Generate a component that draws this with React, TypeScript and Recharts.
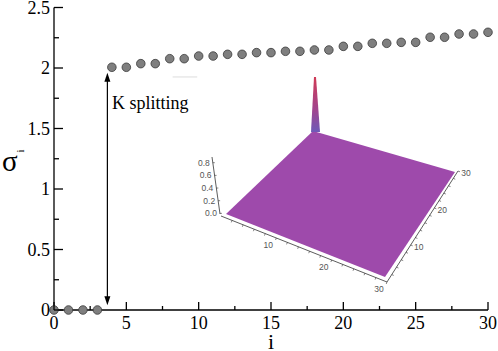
import React from "react";
import { ScatterChart, Scatter, XAxis, YAxis, ReferenceLine } from "recharts";

// singular values sigma_i (degenerate pairs above the split)
const indices = [
  0, 1, 2, 3, 4, 5, 6, 7, 8, 9, 10, 11, 12, 13, 14, 15, 16, 17, 18, 19, 20, 21,
  22, 23, 24, 25, 26, 27, 28, 29, 30,
];
const sigma = [
  0, 0, 0, 0, 2.006, 2.006, 2.036, 2.036, 2.077, 2.077, 2.099, 2.099, 2.113,
  2.113, 2.127, 2.127, 2.138, 2.138, 2.149, 2.149, 2.179, 2.179, 2.204, 2.204,
  2.212, 2.212, 2.254, 2.254, 2.281, 2.281, 2.295,
];

const xTicks = [0, 2.5, 5, 7.5, 10, 12.5, 15, 17.5, 20, 22.5, 25, 27.5, 30];
const yTicks = [0, 0.25, 0.5, 0.75, 1, 1.25, 1.5, 1.75, 2, 2.25, 2.5];
const xLabels = ["0", "5", "10", "15", "20", "25", "30"];
const yLabels = ["0", "0.5", "1", "1.5", "2", "2.5"];

// inset (surface plot) tick labels
const zLabels = ["0.0", "0.2", "0.4", "0.6", "0.8"];
const gridLabels = ["10", "20", "30"];

const points = indices.map((i, k) => ({ i, s: sigma[k] }));

const serif = "Liberation Serif, Times New Roman, Tinos, DejaVu Serif, serif";
const sans = "Liberation Sans, Arial, sans-serif";
const lw = 1.3;
const serifStyle = { fontFamily: serif };
const sansStyle = { fontFamily: sans };

const BottomTick = (props: any) => {
  const { x, y, payload } = props;
  const label = xLabels.find((l) => Number(l) === payload.value);
  return (
    <g>
      <line x1={x} y1={y} x2={x} y2={y - (label ? 8 : 4)} stroke="#000" strokeWidth={lw} />
      {label && (
        <text x={x} y={y + 19} textAnchor="middle" fontSize={18} style={serifStyle} fill="#000">
          {label}
        </text>
      )}
    </g>
  );
};

const LeftTick = (props: any) => {
  const { x, y, payload } = props;
  const label = yLabels.find((l) => Number(l) === payload.value);
  return (
    <g>
      <line x1={x} y1={y} x2={x + (label ? 9 : 5)} y2={y} stroke="#000" strokeWidth={lw} />
      {label && (
        <text x={x - 4} y={y + 6} textAnchor="end" fontSize={18} style={serifStyle} fill="#000">
          {label}
        </text>
      )}
    </g>
  );
};

const TopTick = (props: any) => {
  const { x, y } = props;
  return <line x1={x} y1={y} x2={x} y2={y + 8} stroke="#000" strokeWidth={lw} />;
};

const RightTick = (props: any) => {
  const { x, y } = props;
  return <line x1={x} y1={y} x2={x - 8} y2={y} stroke="#000" strokeWidth={lw} />;
};

const Dot = (props: any) => (
  <circle cx={props.cx} cy={props.cy} r={4.3} fill="#7f7f7f" stroke="#3a3a3a" strokeWidth={0.8} />
);

const DoubleArrow = (props: any) => {
  const { x1, y1, x2, y2 } = props;
  return (
    <g>
      <line x1={x1} y1={y1 + 6} x2={x2} y2={y2 - 6} stroke="#000" strokeWidth={1.2} />
      <polygon points={`${x1},${y1} ${x1 - 3},${y1 + 9} ${x1 + 3},${y1 + 9}`} fill="#000" />
      <polygon points={`${x2},${y2} ${x2 - 3},${y2 - 9} ${x2 + 3},${y2 - 9}`} fill="#000" />
    </g>
  );
};

// inset picture: 3D surface of a matrix, placed as an image in the frame
const inset = {
  back: [313, 131],
  right: [455, 172],
  front: [385, 277],
  left: [226, 214],
};

function Inset() {
  const lerp = (a: number[], b: number[], t: number) => [a[0] + (b[0] - a[0]) * t, a[1] + (b[1] - a[1]) * t];
  const axA = [221, 216];
  const axB = [387, 282];
  const axC = [458, 171];
  const zTop = [212, 157];
  const zBot = [220, 214];
  const pts = [inset.back, inset.right, inset.front, inset.left].map((p) => p.join(",")).join(" ");
  return (
    <g>
      <defs>
        <linearGradient id="spike" x1="0" y1="0" x2="0" y2="1">
          <stop offset="0" stopColor="#d03a55" />
          <stop offset="0.6" stopColor="#a0458f" />
          <stop offset="1" stopColor="#6e5ab8" />
        </linearGradient>
      </defs>
      <polygon points={pts} fill="#9e4aab" />
      <polygon points="311,132 314,77 316,77 320,132" fill="url(#spike)" />
      {/* z axis */}
      <line x1={zTop[0]} y1={zTop[1]} x2={zBot[0]} y2={zBot[1]} stroke="#333" strokeWidth={0.8} />
      {zLabels.map((l, k) => {
        const p = lerp(zBot, zTop, (k + 0.05) / 4.5);
        return (
          <g key={l}>
            <line x1={p[0]} y1={p[1]} x2={p[0] + 2} y2={p[1]} stroke="#333" strokeWidth={0.6} />
            <text x={p[0] - 3} y={p[1] + 3} textAnchor="end" fontSize={8.5} style={sansStyle} fill="#555">
              {l}
            </text>
          </g>
        );
      })}
      {/* base axes */}
      <polyline points={`${axA.join(",")} ${axB.join(",")} ${axC.join(",")}`} fill="none" stroke="#333" strokeWidth={0.8} />
      {[1, 2, 3, 4, 5, 6, 7, 8, 9, 10, 11, 12, 13, 14, 15].map((k) => {
        const p = lerp(axA, axB, k / 15);
        const q = lerp(axB, axC, k / 15);
        return (
          <g key={k}>
            <line x1={p[0]} y1={p[1]} x2={p[0] - 0.8} y2={p[1] + 2} stroke="#333" strokeWidth={0.6} />
            <line x1={q[0]} y1={q[1]} x2={q[0] + 2} y2={q[1] + 0.8} stroke="#333" strokeWidth={0.6} />
          </g>
        );
      })}
      {gridLabels.map((l, k) => {
        const p = lerp(axA, axB, (k + 1) / 3);
        const q = lerp(axB, axC, (k + 1) / 3);
        return (
          <g key={l}>
            <text x={p[0] - 8} y={p[1] + 10} textAnchor="middle" fontSize={8.5} style={sansStyle} fill="#555">
              {l}
            </text>
            <text x={q[0] + 8} y={q[1] + 5} textAnchor="middle" fontSize={8.5} style={sansStyle} fill="#555">
              {l}
            </text>
          </g>
        );
      })}
    </g>
  );
}

export default function App() {
  return (
    <div style={{ position: "absolute", left: 0, top: 0, width: 498, height: 351, background: "#fff" }}>
      <ScatterChart width={498} height={351} margin={{ top: 7.5, right: 10, bottom: 0, left: 0 }}>
        <XAxis
          dataKey="i"
          type="number"
          domain={[0, 30]}
          ticks={xTicks}
          interval={0}
          height={41}
          tickSize={0}
          tickMargin={0}
          tickLine={false}
          tick={BottomTick}
          axisLine={{ stroke: "#000", strokeWidth: lw }}
        />
        <XAxis
          xAxisId="top"
          orientation="top"
          type="number"
          domain={[0, 30]}
          ticks={xTicks}
          interval={0}
          height={0}
          tickSize={0}
          tickMargin={0}
          tickLine={false}
          tick={TopTick}
          axisLine={{ stroke: "#000", strokeWidth: lw }}
        />
        <YAxis
          dataKey="s"
          type="number"
          domain={[0, 2.5]}
          ticks={yTicks}
          interval={0}
          width={54}
          tickSize={0}
          tickMargin={0}
          tickLine={false}
          tick={LeftTick}
          axisLine={{ stroke: "#000", strokeWidth: lw }}
        />
        <YAxis
          yAxisId="right"
          orientation="right"
          type="number"
          domain={[0, 2.5]}
          ticks={yTicks}
          interval={0}
          width={0}
          tickSize={0}
          tickMargin={0}
          tickLine={false}
          tick={RightTick}
          axisLine={{ stroke: "#000", strokeWidth: lw }}
        />
        <ReferenceLine
          segment={[
            { x: 8.2, y: 1.926 },
            { x: 9.9, y: 1.926 },
          ]}
          stroke="#dcdcdc"
          strokeWidth={1}
        />
        <ReferenceLine
          segment={[
            { x: 3.69, y: 1.96 },
            { x: 3.69, y: 0.04 },
          ]}
          stroke="#000"
          shape={DoubleArrow}
        />
        <Scatter data={points} shape={Dot} isAnimationActive={false} />
      </ScatterChart>
      <svg width={498} height={351} style={{ position: "absolute", left: 0, top: 0, pointerEvents: "none" }}>
        <text x={112} y={109} fontSize={18} style={serifStyle} fill="#000">
          K splitting
        </text>
        <text x={2} y={171} fontSize={29} style={serifStyle} fill="#000">
          σ
        </text>
        <text
          transform="translate(20,151) rotate(-90)"
          textAnchor="middle"
          dominantBaseline="central"
          fontSize={11}
          style={serifStyle}
          fill="#000"
        >
          i
        </text>
        <text x={271} y={349} textAnchor="middle" fontSize={22} style={serifStyle} fill="#000">
          i
        </text>
        <Inset />
      </svg>
    </div>
  );
}
